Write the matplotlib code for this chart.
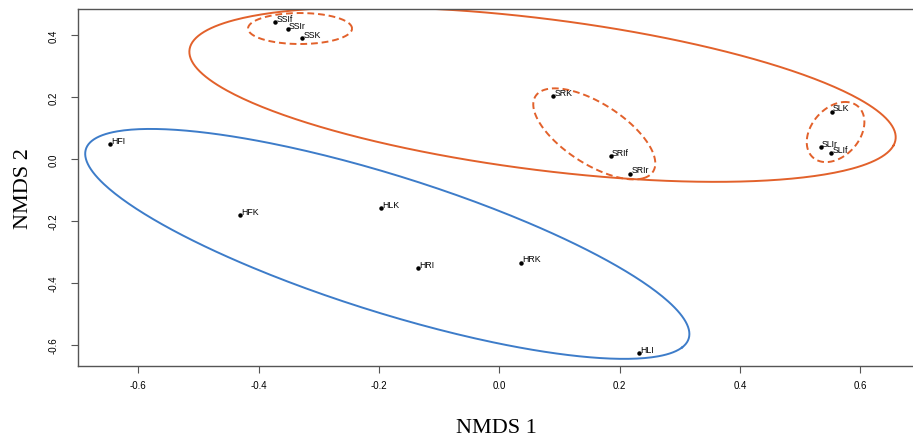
import numpy as np
import matplotlib
matplotlib.use('Agg')
import matplotlib.pyplot as plt

plt.rcParams['axes.unicode_minus'] = False

# Sites (NMDS scores)
labels = ['HFI', 'HFK', 'HLK', 'HRI', 'HRK', 'HLI',
          'SSIf', 'SSIr', 'SSK', 'SRK', 'SRIf', 'SRIr', 'SLK', 'SLIr', 'SLIf']
nmds1 = [-0.646, -0.430, -0.196, -0.135, 0.037, 0.233,
         -0.372, -0.351, -0.327, 0.090, 0.186, 0.218, 0.553, 0.535, 0.552]
nmds2 = [0.048, -0.181, -0.158, -0.352, -0.335, -0.626,
         0.442, 0.419, 0.390, 0.203, 0.010, -0.048, 0.152, 0.039, 0.019]

# Ellipses: centre, semi-axes and angle (data units, degrees)
ell_names = ['H', 'S', 'SS', 'SR', 'SL']
ell_cx = [-0.186, 0.072, -0.331, 0.158, 0.559]
ell_cy = [-0.274, 0.208, 0.421, 0.081, 0.087]
ell_a = [0.593, 0.606, 0.0864, 0.1647, 0.0987]
ell_b = [0.195, 0.238, 0.050, 0.069, 0.0444]
ell_ang = [-34.3, -15.7, 0.0, -60.2, 78.2]
ell_col = ['#3d7cc9', '#e2612b', '#e2612b', '#e2612b', '#e2612b']
ell_ls = ['-', '-', '--', '--', '--']

W, H = 913, 439
fig = plt.figure(figsize=(W / 100, H / 100), dpi=100)
ax = fig.add_axes([78 / W, (H - 367) / H, (915 - 78) / W, (367 - 10) / H])

t = np.linspace(0, 2 * np.pi, 400)
for i in range(len(ell_names)):
    th = np.deg2rad(ell_ang[i])
    ex = ell_cx[i] + ell_a[i] * np.cos(th) * np.cos(t) - ell_b[i] * np.sin(th) * np.sin(t)
    ey = ell_cy[i] + ell_a[i] * np.sin(th) * np.cos(t) + ell_b[i] * np.cos(th) * np.sin(t)
    if ell_ls[i] == '--':
        ax.plot(ex, ey, color=ell_col[i], lw=1.4, dashes=(3.5, 2))
    else:
        ax.plot(ex, ey, color=ell_col[i], lw=1.4)

ax.plot(nmds1, nmds2, 'o', color='black', ms=2.2, ls='none')
for lab, x, y in zip(labels, nmds1, nmds2):
    ax.annotate(lab, (x, y), xytext=(0.6, 2.8), textcoords='offset points',
                fontsize=6.3, family='Liberation Sans', ha='left', va='center')

ax.set_xlim(-0.700, 0.691)
ax.set_ylim(-0.668, 0.484)
ax.set_xticks([-0.6, -0.4, -0.2, 0.0, 0.2, 0.4, 0.6])
ax.set_yticks([-0.6, -0.4, -0.2, 0.0, 0.2, 0.4])
ax.set_xticklabels(['-0.6', '-0.4', '-0.2', '0.0', '0.2', '0.4', '0.6'],
                   family='Liberation Sans', fontsize=7)
ax.set_yticklabels(['-0.6', '-0.4', '-0.2', '0.0', '0.2', '0.4'],
                   family='Liberation Sans', fontsize=7, rotation=90, va='center')
ax.tick_params(direction='out', length=5, width=0.8, color='#555555')
ax.tick_params(axis='x', pad=5)
ax.tick_params(axis='y', pad=9)
for s in ax.spines.values():
    s.set_color('#555555')
    s.set_linewidth(1.0)

ax.set_xlabel('NMDS 1', family='Liberation Serif', fontsize=16, labelpad=20)
ax.set_ylabel('NMDS 2', family='Liberation Serif', fontsize=16, labelpad=11)

fig.savefig('out.png', dpi=100)
